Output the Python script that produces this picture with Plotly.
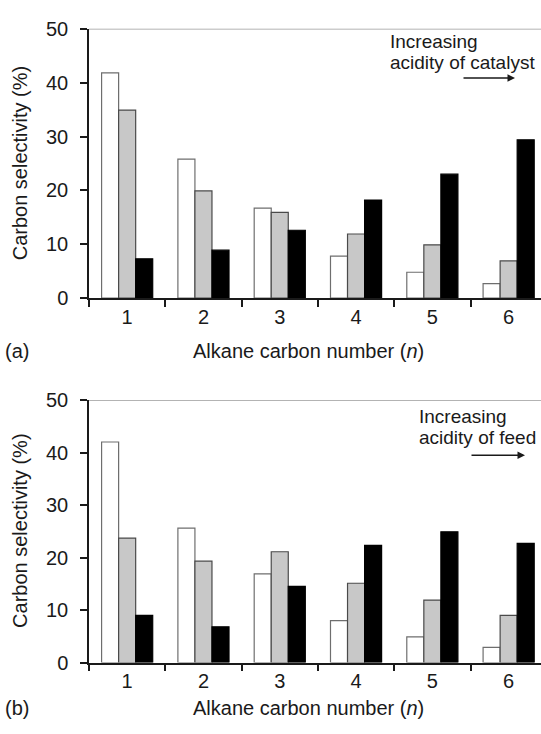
import plotly.graph_objects as go

# Alkane carbon number categories
carbon_numbers = ["1", "2", "3", "4", "5", "6"]
y_ticks = [0, 10, 20, 30, 40, 50]

# (a) effect of catalyst acidity: low, medium, high
catalyst_low = [41.8, 25.8, 16.7, 7.8, 4.8, 2.7]
catalyst_mid = [34.9, 19.9, 15.9, 11.9, 9.9, 6.9]
catalyst_high = [7.3, 8.9, 12.6, 18.2, 23.0, 29.4]

# (b) effect of feed acidity: low, medium, high
feed_low = [42.0, 25.6, 16.9, 8.0, 4.9, 2.9]
feed_mid = [23.7, 19.3, 21.1, 15.1, 11.9, 9.0]
feed_high = [9.0, 6.8, 14.5, 22.3, 24.9, 22.7]

W, H = 541, 734
ML = 89
PW = W - ML
FONT = "Liberation Sans, Arial, sans-serif"
INK = "#1a1a1a"


def px_x(px):
    return (px - ML) / PW


def px_y(py):
    return 1 - py / H


styles = [
    dict(color="#ffffff", line=dict(color="#6e6e6e", width=1.2)),
    dict(color="#c8c8c8", line=dict(color="#4a4a4a", width=1.2)),
    dict(color="#000000", line=dict(color="#000000", width=1.2)),
]

fig = go.Figure()
panels = [
    ("x", "y", [catalyst_low, catalyst_mid, catalyst_high]),
    ("x2", "y2", [feed_low, feed_mid, feed_high]),
]
for xa, ya, series in panels:
    for vals, st, nm in zip(series, styles, ["low", "medium", "high"]):
        fig.add_trace(go.Bar(
            x=carbon_numbers, y=vals, xaxis=xa, yaxis=ya, name=nm,
            marker=st, showlegend=False,
        ))

xcommon = dict(
    type="category", categoryorder="array", categoryarray=carbon_numbers,
    range=[-0.5, -0.5 + PW / 76.3], tickson="boundaries",
    ticks="outside", ticklen=7, tickwidth=1.5, tickcolor=INK,
    showline=True, linecolor=INK, linewidth=1.5, showgrid=False,
    tickfont=dict(size=20, color=INK, family=FONT),
)
ycommon = dict(
    range=[0, 50], tickvals=y_ticks, ticks="outside", ticklen=7,
    tickwidth=1.5, tickcolor=INK, showline=True, linecolor=INK,
    linewidth=1.5, showgrid=False, zeroline=False,
    ticklabelstandoff=8,
    tickfont=dict(size=20, color=INK, family=FONT),
)

top_dom = [px_y(296), px_y(18.3)]
bot_dom = [px_y(671.7), px_y(401)]

fig.update_layout(
    width=W, height=H,
    margin=dict(l=ML, r=0, t=0, b=0),
    paper_bgcolor="white", plot_bgcolor="white",
    bargap=0.33, bargroupgap=0, barmode="group",
    font=dict(family=FONT, color=INK),
    xaxis=dict(xcommon, anchor="y", domain=[0, 1]),
    yaxis=dict(ycommon, anchor="x", domain=top_dom),
    xaxis2=dict(xcommon, anchor="y2", domain=[0, 1]),
    yaxis2=dict(ycommon, anchor="x2", domain=bot_dom),
)

# light frame line along the top of each panel
for ya in ["y", "y2"]:
    fig.add_shape(type="line", xref="paper", yref=ya, x0=0, x1=1, y0=50, y1=50,
                  line=dict(color="#9a9a9a", width=1.5))

ann = []


def text(x, y, s, size=20, xanchor="center", angle=0):
    ann.append(dict(x=px_x(x), y=px_y(y), xref="paper", yref="paper", text=s,
                    showarrow=False, xanchor=xanchor, yanchor="middle",
                    textangle=angle, font=dict(size=size, color=INK, family=FONT)))


def arrow(x0, x1, y):
    ann.append(dict(x=px_x(x1), y=px_y(y), xref="paper", yref="paper", text="",
                    showarrow=True, ax=x0 - x1, ay=0, axref="pixel", ayref="pixel",
                    arrowhead=2, arrowsize=1, arrowwidth=1.5, arrowcolor=INK))


# panel (a)
text(20, 157, "Carbon selectivity (%)", angle=-90)
text(308, 350, "Alkane carbon number (<i>n</i>)")
text(3, 350, "(a)", xanchor="left")
text(388, 31, "Increasing", size=19, xanchor="left")
text(388, 53, "acidity of catalyst", size=19, xanchor="left")
arrow(462, 515, 69)

# panel (b)
text(20, 536, "Carbon selectivity (%)", angle=-90)
text(308, 719, "Alkane carbon number (<i>n</i>)")
text(3, 719, "(b)", xanchor="left")
text(417, 418, "Increasing", size=19, xanchor="left")
text(417, 440, "acidity of feed", size=19, xanchor="left")
arrow(470, 525, 458)

fig.update_layout(annotations=ann)
fig.write_html("out.html")
